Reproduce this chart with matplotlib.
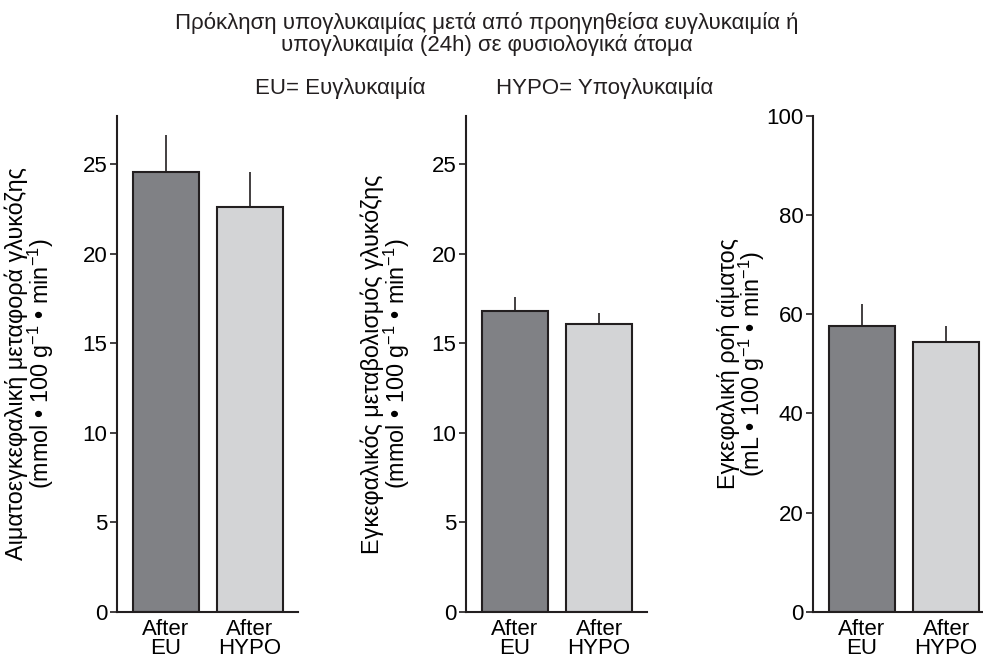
import numpy as np
import matplotlib
matplotlib.use('Agg')
import matplotlib.pyplot as plt

plt.rcParams['font.family'] = ['Liberation Sans', 'DejaVu Sans']
plt.rcParams['mathtext.fontset'] = 'custom'
plt.rcParams['mathtext.rm'] = 'Liberation Sans'
plt.rcParams['mathtext.it'] = 'Liberation Sans'

# data: mean and upper error for each group
groups = ['After\nEU', 'After\nHYPO']
transport = [24.55, 22.6]
transport_err = [2.05, 1.95]
metabolism = [16.8, 16.1]
metabolism_err = [0.8, 0.6]
flow = [57.6, 54.4]
flow_err = [4.4, 3.3]

ylabels = ['Αιματοεγκεφαλική μεταφορά γλυκόζης\n(mmol • 100 g$^{-1}$ • min$^{-1}$)',
           'Εγκεφαλικός μεταβολισμός γλυκόζης\n(mmol • 100 g$^{-1}$ • min$^{-1}$)',
           'Εγκεφαλική ροή αίματος\n(mL • 100 g$^{-1}$ • min$^{-1}$)']
yticks = [[0, 5, 10, 15, 20, 25], [0, 5, 10, 15, 20, 25], [0, 20, 40, 60, 80, 100]]
ylims = [27.7, 27.7, 100]
labelpads = [19, 14, -1]

dark = '#231f20'
colors = ['#808185', '#d3d4d6']
fs = 16

fig = plt.figure(figsize=(9.83, 6.60), dpi=100)
lefts = [0.119, 0.4741, 0.8271]
W, B, H = 0.1841, 0.0727, 0.752

data = [(transport, transport_err), (metabolism, metabolism_err), (flow, flow_err)]
x = np.arange(len(groups))
for i, (vals, errs) in enumerate(data):
    ax = fig.add_axes([lefts[i], B, W, H])
    ax.bar(x, vals, width=0.79, color=colors, edgecolor=dark, linewidth=1.5, zorder=2)
    ax.errorbar(x, vals, yerr=[np.zeros(len(errs)), errs], fmt='none',
                ecolor=dark, elinewidth=1.2, capsize=0, zorder=1)
    ax.set_xlim(-0.58, 1.57)
    ax.set_ylim(0, ylims[i])
    ax.set_yticks(yticks[i])
    ax.set_xticks(x)
    ax.set_xticklabels(groups, fontsize=fs, linespacing=0.9)
    ax.tick_params(axis='x', length=0, pad=5)
    ax.tick_params(axis='y', length=5, width=1.2, color=dark, labelsize=fs, pad=2)
    for s in ['top', 'right']:
        ax.spines[s].set_visible(False)
    for s in ['left', 'bottom']:
        ax.spines[s].set_linewidth(1.5)
        ax.spines[s].set_color(dark)
    ax.set_ylabel(ylabels[i], fontsize=16.8, labelpad=labelpads[i], linespacing=0.9)

fig.text(0.495, 0.982, 'Πρόκληση υπογλυκαιμίας μετά από προηγηθείσα ευγλυκαιμία ή\n'
         'υπογλυκαιμία (24h) σε φυσιολογικά άτομα',
         ha='center', va='top', fontsize=fs, linespacing=1.0, color=dark)
fig.text(0.259, 0.866, 'EU= Ευγλυκαιμία', ha='left', va='center', fontsize=fs, color=dark)
fig.text(0.505, 0.866, 'HYPO= Υπογλυκαιμία', ha='left', va='center', fontsize=fs, color=dark)

fig.savefig('out.png', dpi=100)
